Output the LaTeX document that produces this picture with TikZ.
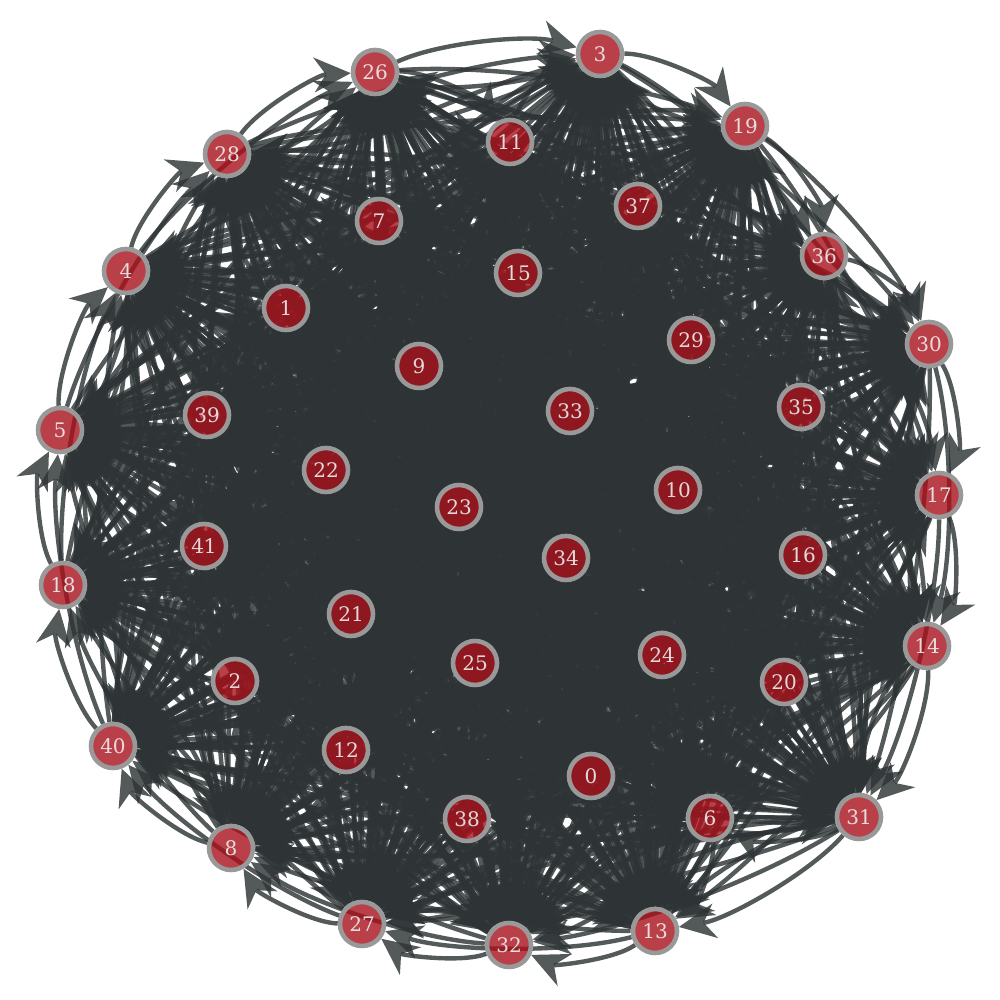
\documentclass[tikz,border=0pt]{standalone}
\usepackage{fontspec}
\setmainfont{DejaVu Serif}
\usetikzlibrary{arrows.meta,backgrounds,calc}
\definecolor{edgecol}{HTML}{2E3436}
\definecolor{vtxfill}{HTML}{A8101A}
\tikzset{
  vtx/.style={circle,draw=gray!80,line width=1.3pt,fill=vtxfill,fill opacity=.8,
    text opacity=.9,text=white!93!black,minimum size=.44cm,inner sep=0pt,
    font=\fontsize{5.7}{6}\selectfont},
  edge/.style={draw=edgecol,opacity=.82,line width=1.25pt,
    -{Stealth[length=10.5pt,width=10pt,inset=3.4pt,line width=0pt]}}
}
\begin{document}
\begin{tikzpicture}
      \useasboundingbox (0,0) rectangle (10,10);
      \draw
        (5.91,2.24) node[vtx] (0){0}
        (2.86,6.92) node[vtx] (1){1}
        (2.35,3.19) node[vtx] (2){2}
        (6.00,9.46) node[vtx] (3){3}
        (1.26,7.29) node[vtx] (4){4}
        (0.60,5.70) node[vtx] (5){5}
        (7.10,1.82) node[vtx] (6){6}
        (3.79,7.79) node[vtx] (7){7}
        (2.31,1.52) node[vtx] (8){8}
        (4.19,6.34) node[vtx] (9){9}
        (6.78,5.10) node[vtx] (10){10}
        (5.10,8.58) node[vtx] (11){11}
        (3.46,2.50) node[vtx] (12){12}
        (6.55,0.69) node[vtx] (13){13}
        (9.27,3.54) node[vtx] (14){14}
        (5.18,7.27) node[vtx] (15){15}
        (8.03,4.45) node[vtx] (16){16}
        (9.39,5.05) node[vtx] (17){17}
        (0.63,4.15) node[vtx] (18){18}
        (7.45,8.74) node[vtx] (19){19}
        (7.84,3.18) node[vtx] (20){20}
        (3.51,3.86) node[vtx] (21){21}
        (3.26,5.30) node[vtx] (22){22}
        (4.59,4.93) node[vtx] (23){23}
        (6.62,3.45) node[vtx] (24){24}
        (4.75,3.37) node[vtx] (25){25}
        (3.75,9.28) node[vtx] (26){26}
        (3.62,0.76) node[vtx] (27){27}
        (2.27,8.46) node[vtx] (28){28}
        (6.91,6.60) node[vtx] (29){29}
        (9.29,6.56) node[vtx] (30){30}
        (8.59,1.83) node[vtx] (31){31}
        (5.09,0.55) node[vtx] (32){32}
        (5.70,5.89) node[vtx] (33){33}
        (5.66,4.42) node[vtx] (34){34}
        (8.01,5.93) node[vtx] (35){35}
        (8.24,7.44) node[vtx] (36){36}
        (6.38,7.94) node[vtx] (37){37}
        (4.67,1.81) node[vtx] (38){38}
        (2.07,5.85) node[vtx] (39){39}
        (1.13,2.54) node[vtx] (40){40}
        (2.04,4.54) node[vtx] (41){41};
      \begin{scope}[on background layer]
        \foreach \a in {0,...,41}
          \foreach \b in {0,...,41} {
            \ifnum\a=\b\else
              \draw[edge] (\a) .. controls ($(\a)!.3!(\b)!.25cm!90:(\b)$)
                and ($(\a)!.7!(\b)!.25cm!90:(\b)$) .. (\b);
            \fi
          }
      \end{scope}
    \end{tikzpicture}
\end{document}
